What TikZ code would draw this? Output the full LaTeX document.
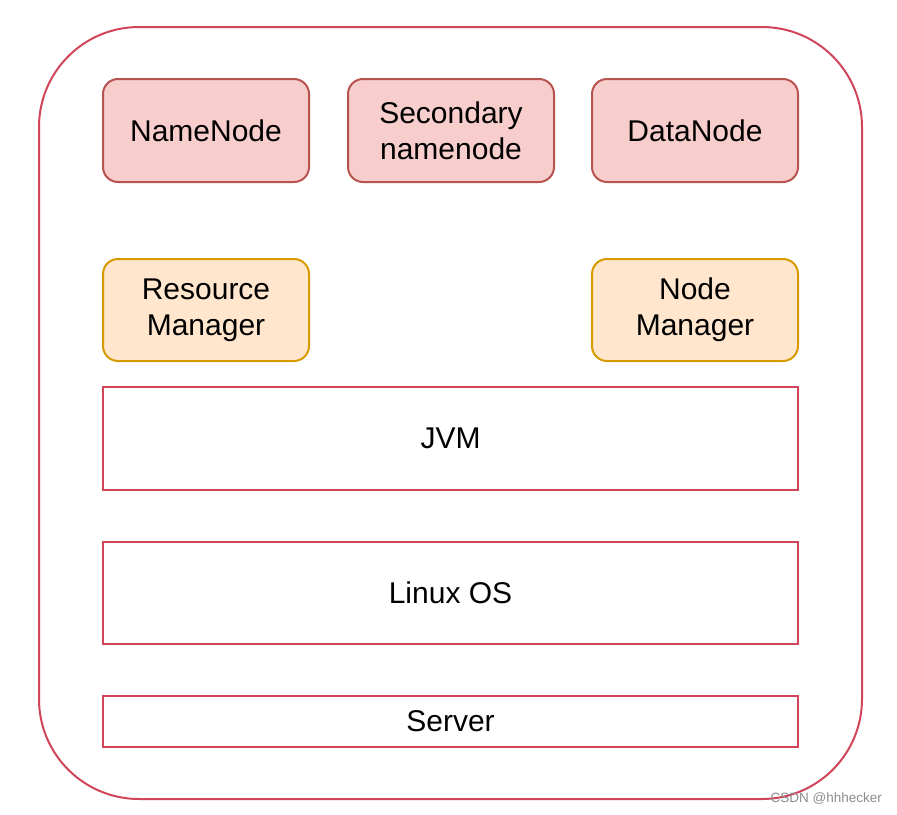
\documentclass[tikz,border=0pt]{standalone}
\usepackage{fontspec}
\setmainfont{Liberation Sans}
\definecolor{pinkfill}{HTML}{F8CECC}
\definecolor{pinkline}{HTML}{B85450}
\definecolor{orfill}{HTML}{FFE6CC}
\definecolor{orline}{HTML}{D79B00}
\definecolor{redline}{HTML}{D0455A}
\tikzset{
  base/.style={draw, line width=2pt, align=center, font=\fontsize{30}{36}\selectfont, inner sep=0pt},
  pinkbox/.style={base, fill=pinkfill, draw=pinkline, rounded corners=15pt, minimum width=206pt, minimum height=103pt},
  orbox/.style={base, fill=orfill, draw=orline, rounded corners=15pt, minimum width=206pt, minimum height=102pt},
  layer/.style={base, draw=redline, minimum width=695pt},
}
\begin{document}
\begin{tikzpicture}[x=1pt,y=-1pt]
\useasboundingbox (0,0) rectangle (897,814);
\node[draw=redline, line width=2pt, rounded corners=100pt, minimum width=823pt, minimum height=772pt, inner sep=0pt] (outer) at (450.5,413) {};
\node[pinkbox] (nn) at (206,130.5) {NameNode};
\node[pinkbox] (snn) at (451,130.5) {Secondary\\namenode};
\node[pinkbox] (dn) at (695,130.5) {DataNode};
\node[orbox] (rm) at (206,310) {Resource\\Manager};
\node[orbox] (nm) at (695,310) {Node\\Manager};
\node[layer, minimum height=103pt] (jvm) at (450.5,438.5) {JVM};
\node[layer, minimum height=102pt] (os) at (450.5,593) {Linux OS};
\node[layer, minimum height=51pt] (srv) at (450.5,721.5) {Server};
\node[anchor=east, text=black!45, font=\fontsize{13.5}{15}\selectfont, inner sep=0pt] (wm) at (882,799) {CSDN @hhhecker};
\end{tikzpicture}
\end{document}
